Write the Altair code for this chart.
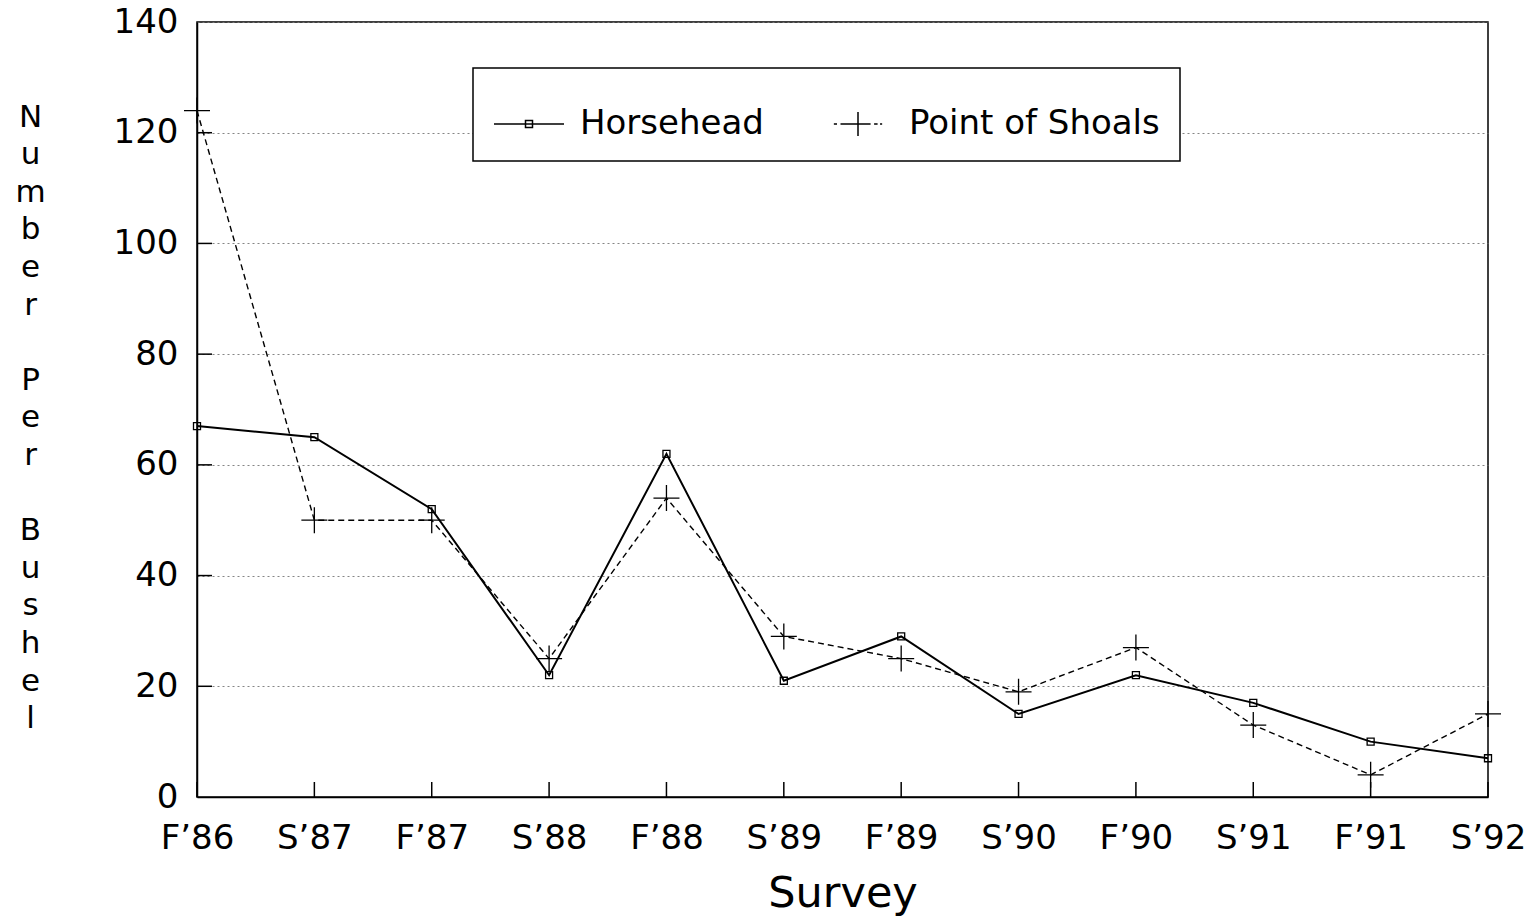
import altair as alt
import pandas as pd

surveys = ["F’86", "S’87", "F’87", "S’88", "F’88", "S’89", "F’89", "S’90", "F’90", "S’91", "F’91", "S’92"]
horsehead = [67, 65, 52, 22, 62, 21, 29, 15, 22, 17, 10, 7]
shoals = [124, 50, 50, 25, 54, 29, 25, 19, 27, 13, 4, 15]
series_names = ["Horsehead", "Point of Shoals"]
y_ticks = [0, 20, 40, 60, 80, 100, 120, 140]
y_title = ["N", "u", "m", "b", "e", "r", "\u200b", "P", "e", "r", "\u200b",
           "B", "u", "s", "h", "e", "l"]

rows = []
for s, h, p in zip(surveys, horsehead, shoals):
    rows.append({"survey": s, "series": series_names[0], "value": h})
    rows.append({"survey": s, "series": series_names[1], "value": p})
df = pd.DataFrame(rows)

FONT = "DejaVu Sans"
W, H = 1291, 775

X = alt.X(
    "survey:N", sort=surveys,
    scale=alt.Scale(type="point", padding=0, domain=surveys),
    axis=alt.Axis(title="Survey", labelAngle=0, ticks=False, grid=False,
                  labelFontSize=34, labelPadding=24, labelFont=FONT,
                  titleFont=FONT, titleFontSize=43, titleFontWeight="normal",
                  titlePadding=17, labelColor="black", titleColor="black"),
)
Y = alt.Y(
    "value:Q",
    scale=alt.Scale(domain=[0, 140], nice=False, zero=True),
    axis=alt.Axis(values=y_ticks, ticks=False, grid=True, gridDash=[2, 3],
                  gridColor="#777777", gridWidth=0.9,
                  labelFontSize=34, labelFont=FONT, labelPadding=19,
                  labelColor="black",
                  title=y_title,
                  titleAngle=0, titleAlign="center", titleBaseline="top",
                  titleX=-167, titleY=80, titleFont=FONT, titleFontSize=31,
                  titleFontWeight="normal", titleLineHeight=37.6,
                  titleColor="black"),
)

base = alt.Chart(df)

line_h = base.transform_filter(alt.datum.series == series_names[0]).mark_line(
    color="black", strokeWidth=2).encode(x=X, y=Y)
line_s = base.transform_filter(alt.datum.series == series_names[1]).mark_line(
    color="black", strokeWidth=1.4, strokeDash=[6, 4]).encode(x=X, y=Y)
pts_h = base.transform_filter(alt.datum.series == series_names[0]).mark_point(
    shape="square", size=49, filled=False, color="black", strokeWidth=1.3,
    opacity=1).encode(x=X, y=Y)
pts_s = base.transform_filter(alt.datum.series == series_names[1]).mark_point(
    shape="M-1,0H1M0,-1V1", size=676, filled=False, color="black",
    strokeWidth=1.3, opacity=1).encode(x=X, y=Y)

# inward tick marks
xt = alt.Chart(pd.DataFrame({"survey": surveys})).mark_rule(
    color="black", strokeWidth=1.5).encode(
    x=X, y=alt.value(H), y2=alt.value(H - 15))
yt = alt.Chart(pd.DataFrame({"value": y_ticks[1:-1]})).mark_rule(
    color="black", strokeWidth=1.5).encode(
    y=Y, x=alt.value(0), x2=alt.value(15))

path_h = "M-1,0H1M-0.1,-0.1H0.1V0.1H-0.1Z"
path_s = ("M-0.69,0H-0.6M-0.5,0H0.36M0.46,0H0.56M0.63,0H0.69"
          "M0,-0.34V0.34")
legend_layer = base.transform_filter("false").mark_point(
    filled=False, color="black", strokeWidth=1.5, opacity=1).encode(
    shape=alt.Shape(
        "series:N",
        scale=alt.Scale(domain=series_names, range=[path_h, path_s]),
        legend=alt.Legend(
            title=None, orient="none", legendX=276, legendY=46,
            direction="horizontal", symbolSize=4900, symbolStrokeWidth=1.5,
            symbolStrokeColor="black", symbolFillColor="transparent",
            labelFont=FONT, labelFontSize=34, labelColor="black",
            labelOffset=15, columnPadding=58, padding=20,
            strokeColor="black", fillColor="white", labelLimit=400,
        ),
    )
)

chart = alt.layer(line_h, line_s, pts_h, pts_s, xt, yt, legend_layer).properties(
    width=W, height=H,
    autosize=alt.AutoSizeParams(type="none"),
    padding={"left": 189, "top": 14, "right": 38, "bottom": 119},
).configure_view(
    stroke="black", strokeWidth=1.5
).configure_axis(
    domainColor="black", domainWidth=1.5
).configure_legend(
    strokeWidth=1.5
)

chart.save("out.html", embed_options={"renderer": "svg", "actions": False})
